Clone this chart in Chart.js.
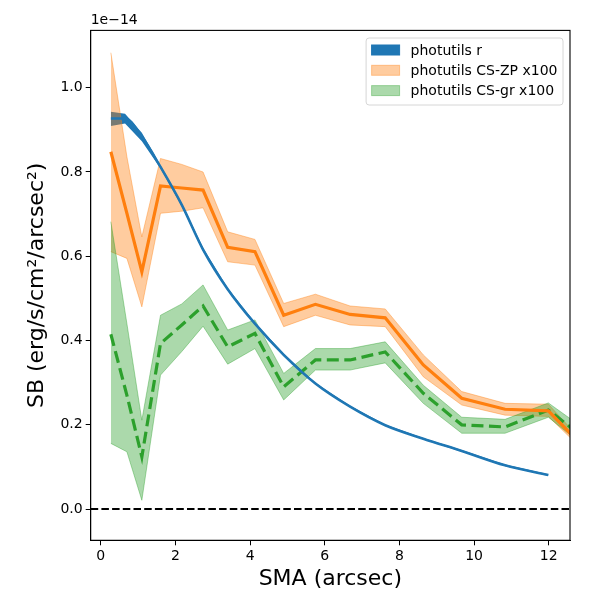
<!DOCTYPE html>
<html>
<head>
<meta charset="utf-8">
<script src="https://cdn.jsdelivr.net/npm/chart.js@4.4.1/dist/chart.umd.min.js"></script>
<style>
  body { margin: 0; background: #fff; }
  #wrap { width: 600px; height: 600px; position: relative; }
</style>
</head>
<body>
<div id="wrap"><canvas id="sbChart"></canvas></div>
<script>
// values in units of 1e-14 erg/s/cm2/arcsec2
const seriesNames = ['photutils r', 'photutils CS-ZP x100', 'photutils CS-gr x100'];

const smaR = [0.27, 0.65, 1.10, 1.60, 2.17, 2.74, 3.40, 4.13, 4.90, 5.75, 6.68, 7.62, 8.64, 9.67, 10.83, 11.99];
const sbR = [0.927, 0.927, 0.884, 0.812, 0.722, 0.616, 0.522, 0.440, 0.366, 0.298, 0.243, 0.199, 0.167, 0.138, 0.104, 0.081];
const sbRHi = [0.943, 0.938, 0.893, 0.816, 0.726, 0.620, 0.525, 0.443, 0.369, 0.300, 0.245, 0.201, 0.169, 0.140, 0.106, 0.083];
const sbRLo = [0.909, 0.915, 0.873, 0.808, 0.718, 0.612, 0.519, 0.437, 0.363, 0.296, 0.241, 0.197, 0.165, 0.136, 0.102, 0.079];

const smaCS = [0.27, 0.70, 1.10, 1.60, 2.17, 2.74, 3.40, 4.13, 4.90, 5.75, 6.68, 7.62, 8.64, 9.67, 10.83, 11.99, 13.2];
const sbZP = [0.848, 0.702, 0.563, 0.767, 0.762, 0.757, 0.621, 0.611, 0.460, 0.486, 0.462, 0.454, 0.342, 0.263, 0.237, 0.233, 0.123];
const sbZPHi = [1.083, 0.836, 0.646, 0.832, 0.818, 0.800, 0.658, 0.640, 0.488, 0.510, 0.482, 0.475, 0.366, 0.279, 0.251, 0.249, 0.132];
const sbZPLo = [0.611, 0.595, 0.480, 0.702, 0.707, 0.715, 0.587, 0.579, 0.433, 0.460, 0.437, 0.433, 0.314, 0.247, 0.223, 0.220, 0.116];

const sbGR = [0.415, 0.270, 0.124, 0.393, 0.437, 0.482, 0.385, 0.417, 0.290, 0.354, 0.354, 0.373, 0.275, 0.200, 0.195, 0.235, 0.152];
const sbGRHi = [0.682, 0.440, 0.211, 0.460, 0.487, 0.532, 0.425, 0.449, 0.322, 0.381, 0.381, 0.397, 0.294, 0.218, 0.213, 0.252, 0.175];
const sbGRLo = [0.156, 0.136, 0.021, 0.318, 0.374, 0.434, 0.344, 0.381, 0.259, 0.330, 0.330, 0.347, 0.251, 0.180, 0.180, 0.218, 0.131];

const xTicks = [0, 2, 4, 6, 8, 10, 12];
const yTicks = [0.0, 0.2, 0.4, 0.6, 0.8, 1.0];
const zeroLevel = 0;

const pts = (xs, ys) => xs.map((x, i) => ({ x: x, y: ys[i] }));

const FONT = "'DejaVu Sans', sans-serif";
const BLUE = '#1f77b4', ORANGE = '#ff7f0e', GREEN = '#2ca02c';
const ORANGE_A = 'rgba(255, 127, 14, 0.4)', GREEN_A = 'rgba(44, 160, 44, 0.4)';

// frame, zero line, offset text and legend like matplotlib
const extras = {
    id: 'extras',
    beforeDatasetsDraw(chart) {
        const { ctx, chartArea: a, scales } = chart;
        const y0 = scales.y.getPixelForValue(zeroLevel);
        ctx.save();
        ctx.strokeStyle = '#000';
        ctx.lineWidth = 2;
        ctx.setLineDash([7.5, 3.2]);
        ctx.beginPath();
        ctx.moveTo(a.left, y0);
        ctx.lineTo(a.right, y0);
        ctx.stroke();
        ctx.restore();
    },
    afterDraw(chart) {
        const { ctx, chartArea: a } = chart;
        ctx.save();
        ctx.strokeStyle = '#000';
        ctx.lineWidth = 1.1;
        ctx.strokeRect(a.left, a.top, a.right - a.left, a.bottom - a.top);

        ctx.fillStyle = '#000';
        ctx.font = '14px ' + FONT;
        ctx.textAlign = 'left';
        ctx.textBaseline = 'bottom';
        ctx.fillText('1e\u221214', a.left, a.top - 3);

        // legend
        const colors = [[BLUE, BLUE], [ORANGE_A, ORANGE_A], [GREEN_A, GREEN_A]];
        const tw = Math.max(...seriesNames.map(s => ctx.measureText(s).width));
        const w = 5.5 + 28 + 11 + tw + 5.5;
        const h = 67;
        const right = a.right - 7;
        const left = right - w;
        const top = a.top + 7.6;
        ctx.beginPath();
        ctx.roundRect(left, top, w, h, 3);
        ctx.fillStyle = 'rgba(255,255,255,0.8)';
        ctx.fill();
        ctx.strokeStyle = '#d6d6d6';
        ctx.lineWidth = 1;
        ctx.stroke();
        ctx.textBaseline = 'middle';
        seriesNames.forEach((name, i) => {
            const cy = top + 12 + i * 20.3;
            ctx.fillStyle = colors[i][0];
            ctx.fillRect(left + 5.5, cy - 5, 28, 10);
            ctx.strokeStyle = colors[i][1];
            ctx.strokeRect(left + 5.5, cy - 5, 28, 10);
            ctx.fillStyle = '#000';
            ctx.fillText(name, left + 5.5 + 28 + 11, cy + 1);
        });
        ctx.restore();
    }
};

const ctx = document.getElementById('sbChart').getContext('2d');
const sbChart = new Chart(ctx, {
    type: 'line',
    data: {
        datasets: [
            { label: seriesNames[0], data: pts(smaR, sbR), borderColor: BLUE, borderWidth: 2.6,
              cubicInterpolationMode: 'monotone', order: 1 },
            { label: seriesNames[1], data: pts(smaCS, sbZP), borderColor: ORANGE, borderWidth: 3.2, order: 2 },
            { label: seriesNames[2], data: pts(smaCS, sbGR), borderColor: GREEN, borderWidth: 3.2,
              borderDash: [12, 5.5], order: 3 },
            // bands
            { label: 'gr hi', data: pts(smaCS, sbGRHi), borderColor: GREEN_A, borderWidth: 1,
              backgroundColor: GREEN_A, fill: '+1', order: 10 },
            { label: 'gr lo', data: pts(smaCS, sbGRLo), borderColor: GREEN_A, borderWidth: 1, order: 11 },
            { label: 'zp hi', data: pts(smaCS, sbZPHi), borderColor: ORANGE_A, borderWidth: 1,
              backgroundColor: ORANGE_A, fill: '+1', order: 12 },
            { label: 'zp lo', data: pts(smaCS, sbZPLo), borderColor: ORANGE_A, borderWidth: 1, order: 13 },
            { label: 'r hi', data: pts(smaR, sbRHi), borderColor: BLUE, borderWidth: 0,
              backgroundColor: BLUE, fill: '+1', order: 14 },
            { label: 'r lo', data: pts(smaR, sbRLo), borderColor: BLUE, borderWidth: 0, order: 15 }
        ]
    },
    options: {
        responsive: true,
        maintainAspectRatio: false,
        animation: false,
        layout: { padding: { top: 30.4, right: 30, left: 0, bottom: 0 } },
        elements: { point: { radius: 0 }, line: { tension: 0 } },
        plugins: {
            legend: { display: false },
            tooltip: { enabled: false }
        },
        scales: {
            x: {
                type: 'linear',
                min: -0.27, max: 12.57,
                afterBuildTicks: s => { s.ticks = xTicks.map(v => ({ value: v })); },
                afterFit: s => { s.height = 59.7; },
                grid: { drawOnChartArea: false, drawTicks: true, tickLength: 5, color: '#000' },
                border: { display: true, color: '#000', width: 1 },
                ticks: { color: '#000', padding: 3, font: { family: FONT, size: 14 } },
                title: { display: true, text: 'SMA (arcsec)', color: '#000',
                         font: { family: FONT, size: 22 }, padding: { top: 0, bottom: 8 } }
            },
            y: {
                type: 'linear',
                min: -0.074, max: 1.136,
                afterBuildTicks: s => { s.ticks = yTicks.map(v => ({ value: v })); },
                afterFit: s => { s.width = 90.7; },
                grid: { drawOnChartArea: false, drawTicks: true, tickLength: 5, color: '#000' },
                border: { display: true, color: '#000', width: 1 },
                ticks: { color: '#000', padding: 3, font: { family: FONT, size: 14 },
                         callback: v => v.toFixed(1) },
                title: { display: true, text: 'SB (erg/s/cm\u00b2/arcsec\u00b2)', color: '#000',
                         font: { family: FONT, size: 22 }, padding: { top: 24, bottom: 0 } }
            }
        }
    },
    plugins: [extras]
});
</script>
</body>
</html>
